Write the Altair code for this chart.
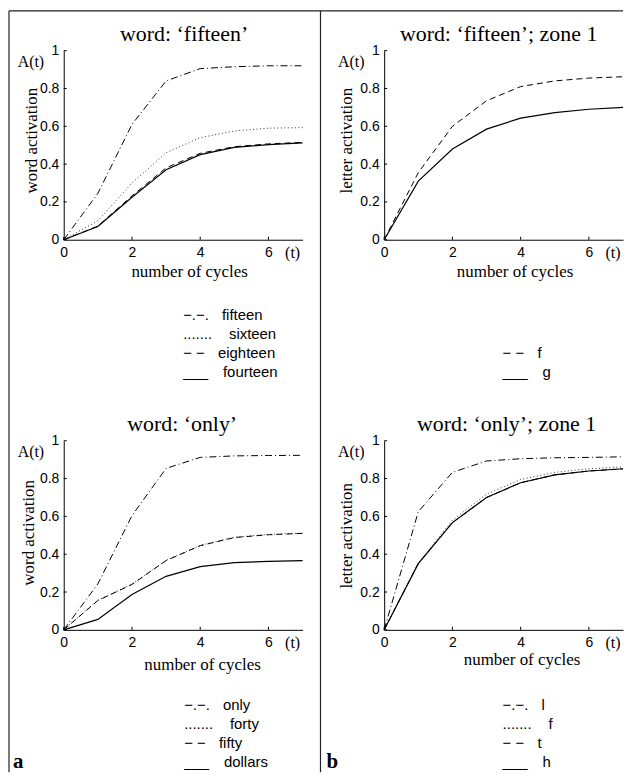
import altair as alt
import pandas as pd

# ---------------- data ----------------
t = [0, 1, 2, 3, 4, 5, 6, 7]

# panel a, top: word 'fifteen'
fifteen_w = [0, 0.245, 0.61, 0.84, 0.905, 0.915, 0.92, 0.92]
sixteen_w = [0, 0.10, 0.30, 0.46, 0.54, 0.575, 0.59, 0.593]
eighteen_w = [0, 0.072, 0.232, 0.38, 0.457, 0.492, 0.507, 0.515]
fourteen_w = [0, 0.07, 0.225, 0.37, 0.45, 0.488, 0.503, 0.512]

# panel b, top: word 'fifteen', zone 1
f_z1_fifteen = [0, 0.355, 0.60, 0.735, 0.81, 0.84, 0.855, 0.862]
g_z1_fifteen = [0, 0.31, 0.48, 0.585, 0.643, 0.672, 0.69, 0.70]

# panel a, bottom: word 'only'
only_w = [0, 0.243, 0.604, 0.854, 0.912, 0.92, 0.922, 0.923]
forty_w = [0, 0.157, 0.242, 0.368, 0.447, 0.49, 0.505, 0.512]
fifty_w = [0, 0.155, 0.24, 0.366, 0.445, 0.488, 0.503, 0.51]
dollars_w = [0, 0.055, 0.187, 0.283, 0.334, 0.355, 0.362, 0.366]

# panel b, bottom: word 'only', zone 1
l_z1_only = [0, 0.625, 0.833, 0.893, 0.905, 0.91, 0.912, 0.915]
f_z1_only = [0, 0.352, 0.58, 0.718, 0.795, 0.833, 0.852, 0.862]
t_z1_only = [0, 0.351, 0.567, 0.70, 0.778, 0.82, 0.84, 0.851]
h_z1_only = [0, 0.35, 0.567, 0.70, 0.778, 0.82, 0.84, 0.852]

x_tick_values = [0, 2, 4, 6]
y_tick_values = [0, 0.2, 0.4, 0.6, 0.8, 1]

# ---------------- styles ----------------
SERIF = "Liberation Serif"
SANS = "Liberation Sans"
W, H = 240, 190

STYLES = {
    "dashdot": dict(strokeDash=[7, 3, 1, 3], strokeWidth=1, color="black"),
    "dotted": dict(strokeDash=[1, 2.5], strokeWidth=1, color="#333333"),
    "dashed": dict(strokeDash=[6, 4], strokeWidth=1, color="black"),
    "solid": dict(strokeWidth=1.2, color="black"),
}
SYMBOL = {"dashdot": "\u2212.\u2212.", "dotted": ".......", "dashed": "\u2212  \u2212", "solid": "___"}
TEXT_OFF = {"dashdot": 39, "dotted": 46, "dashed": 35, "solid": 40}
ROWS = [271, 290, 309, 328]


def label(text, x, y, font=SERIF, size=16, align="center", weight="normal", angle=0):
    return (
        alt.Chart(pd.DataFrame({"s": [text]}))
        .mark_text(font=font, fontSize=size, align=align, baseline="alphabetic",
                   fontWeight=weight, color="black", angle=angle)
        .encode(x=alt.value(x), y=alt.value(y), text="s:N")
    )


def panel(series, title, title_x, ylabel, ytx, yty, xtx, xty, sym_x, rows, extras=()):
    recs = []
    for name, vals, _ in series:
        for ti, v in zip(t, vals):
            recs.append({"t": ti, "a": v, "series": name})
    df = pd.DataFrame(recs)

    xaxis = alt.Axis(values=x_tick_values, format="d", ticks=False, grid=False,
                     domainColor="black", domainWidth=1,
                     labelFont=SANS, labelFontSize=14, labelColor="black",
                     labelPadding=6, labelFlush=False, labelOverlap=False,
                     title="number of cycles", titleFont=SERIF, titleFontSize=17,
                     titleFontWeight="normal", titleColor="black",
                     titleX=xtx, titleY=xty, titleBaseline="alphabetic", titleAlign="center")
    yaxis = alt.Axis(values=y_tick_values, format="~g", ticks=False, grid=False,
                     domainColor="black", domainWidth=1,
                     labelFont=SANS, labelFontSize=14, labelColor="black",
                     labelPadding=5, labelFlush=False, labelOverlap=False,
                     title=ylabel, titleFont=SERIF, titleFontSize=17,
                     titleFontWeight="normal", titleColor="black", titleAngle=270,
                     titleX=ytx, titleY=yty, titleBaseline="alphabetic", titleAlign="center")
    xs = alt.Scale(domain=[0, 7], nice=False)
    ys = alt.Scale(domain=[0, 1], nice=False)

    layers = []
    for name, _, style in series:
        layers.append(
            alt.Chart(df).transform_filter(alt.datum.series == name)
            .mark_line(**STYLES[style])
            .encode(x=alt.X("t:Q", scale=xs, axis=xaxis),
                    y=alt.Y("a:Q", scale=ys, axis=yaxis),
                    order="t:Q")
        )
    # inward ticks
    layers.append(
        alt.Chart(pd.DataFrame({"a": y_tick_values})).mark_rule(color="black", strokeWidth=1)
        .encode(y=alt.Y("a:Q", scale=ys, axis=yaxis), x=alt.value(0), x2=alt.value(3))
    )
    layers.append(
        alt.Chart(pd.DataFrame({"t": x_tick_values})).mark_rule(color="black", strokeWidth=1)
        .encode(x=alt.X("t:Q", scale=xs, axis=xaxis), y=alt.value(H), y2=alt.value(H - 3))
    )
    # titles and annotations
    layers.append(label(title, title_x, -10, size=22))
    layers.append(label("A(t)", -33, 16, size=16))
    layers.append(label("(t)", 230, H + 18, size=16))
    # legend (text-style, as in the reference)
    for (name, _, style), ry in zip(series, rows):
        layers.append(label(SYMBOL[style], sym_x, ry, font=SANS, size=15, align="left"))
        layers.append(label(name, sym_x + TEXT_OFF[style], ry, font=SANS, size=15, align="left"))
    layers.extend(extras)
    return alt.layer(*layers).properties(width=W, height=H)


frame_df = pd.DataFrame({"k": [0]})
frame = [
    alt.Chart(frame_df).mark_rule(color="#222222", strokeWidth=1.2)
    .encode(x=alt.value(-55), y=alt.value(-40), y2=alt.value(725)),
    alt.Chart(frame_df).mark_rule(color="#222222", strokeWidth=1.2)
    .encode(x=alt.value(258), y=alt.value(-40), y2=alt.value(725)),
    alt.Chart(frame_df).mark_rule(color="#222222", strokeWidth=1.2)
    .encode(x=alt.value(-55), x2=alt.value(562), y=alt.value(-40)),
]

tl = panel(
    [("fifteen", fifteen_w, "dashdot"), ("sixteen", sixteen_w, "dotted"),
     ("eighteen", eighteen_w, "dashed"), ("fourteen", fourteen_w, "solid")],
    "word: \u2018fifteen\u2019", 121, "word activation", -27, 90, 126, 37, 120, ROWS,
    extras=frame,
)
tr = panel(
    [("f", f_z1_fifteen, "dashed"), ("g", g_z1_fifteen, "solid")],
    "word: \u2018fifteen\u2019; zone 1", 115, "letter activation", -33, 90, 131, 37, 119, ROWS[2:],
)
bl = panel(
    [("only", only_w, "dashdot"), ("forty", forty_w, "dotted"),
     ("fifty", fifty_w, "dashed"), ("dollars", dollars_w, "solid")],
    "word: \u2018only\u2019", 119, "word activation", -30, 92, 139, 40, 121, ROWS,
    extras=[label("a", -51, 329, size=21, align="left", weight="bold")],
)
br = panel(
    [("l", l_z1_only, "dashdot"), ("f", f_z1_only, "dotted"),
     ("t", t_z1_only, "dashed"), ("h", h_z1_only, "solid")],
    "word: \u2018only\u2019; zone 1", 123, "letter activation", -33, 95, 138, 35, 119, ROWS,
    extras=[label("b", -58, 329, size=21, align="left", weight="bold")],
)

chart = (
    alt.concat(tl, tr, bl, br, columns=2, spacing={"row": 202, "column": 82}, bounds="flush")
    .properties(padding=0, background="white")
    .configure_view(stroke=None)
)

chart.save("out.html", embed_options={"renderer": "svg", "actions": False})
